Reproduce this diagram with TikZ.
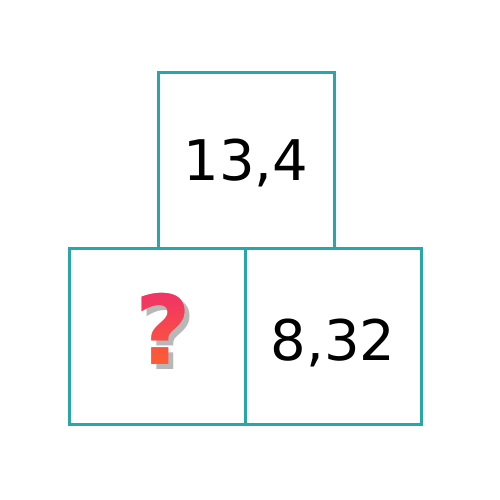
\documentclass[tikz,border=0pt]{standalone}
\usepackage{fontspec}
\usetikzlibrary{fadings}
\setmainfont{DejaVu Sans}
\definecolor{boxteal}{HTML}{27A7A7}
\definecolor{qtop}{HTML}{F0306A}
\definecolor{qbot}{HTML}{FF6030}
\definecolor{qred}{HTML}{F7424F}
\begin{tikzfadingfrompicture}[name=qfade]
  \node[inner sep=0pt,text=transparent!0,font=\bfseries\fontsize{96}{96}\selectfont] at (0,0) {?};
\end{tikzfadingfrompicture}
\begin{document}
\begin{tikzpicture}[x=1pt,y=-1pt,
  cell/.style={draw=boxteal,line width=3pt,minimum width=176pt,minimum height=176pt,inner sep=0pt,font=\fontsize{56}{56}\selectfont,text depth=0pt},
  qmark/.style={inner sep=0pt,font=\bfseries\fontsize{96}{96}\selectfont}]
\useasboundingbox (0,0) rectangle (500,500);
\node[cell,text height=40.8pt] (top) at (246,160.5) {13,4};
\node[cell] (left) at (157,336.5) {};
\node[cell,text height=48pt] (right) at (333,336.5) {8,32};
\fill[black,opacity=0.28,path fading=qfade,fit fading=false,fading transform={shift={(168pt,-334pt)}}] (110,270) rectangle (230,400);
\node[qmark,text=qred] (q) at (163,328.5) {?};
\shade[top color=qtop,bottom color=qbot,path fading=qfade,fit fading=false,fading transform={shift={(163pt,-328.5pt)}}] (130,288) rectangle (196,369);
\end{tikzpicture}
\end{document}
